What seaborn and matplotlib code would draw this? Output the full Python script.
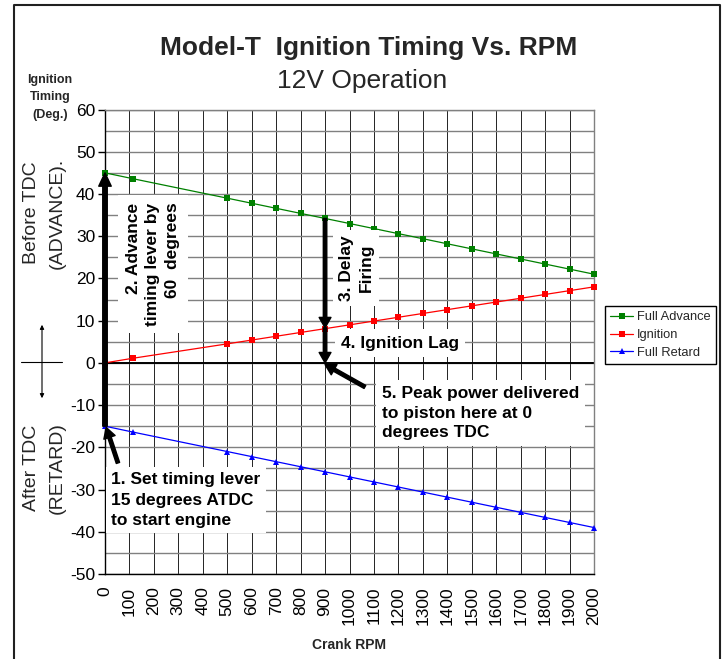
import matplotlib
matplotlib.use("Agg")
import matplotlib.pyplot as plt
import seaborn as sns
import pandas as pd
from matplotlib.lines import Line2D
from matplotlib.patches import FancyArrowPatch

# ---------------- data ----------------
rpm = [0, 115, 500, 600, 700, 800, 900, 1000, 1100, 1200, 1300, 1400,
       1500, 1600, 1700, 1800, 1900, 2000]
full_advance = [45.0, 43.6, 39.0, 37.8, 36.6, 35.4, 34.2, 33.0, 31.8, 30.6,
                29.4, 28.2, 27.0, 25.8, 24.6, 23.4, 22.2, 21.0]
ignition = [0.0, 1.1, 4.5, 5.4, 6.3, 7.2, 8.1, 9.0, 9.9, 10.8, 11.7, 12.6,
            13.5, 14.4, 15.3, 16.2, 17.1, 18.0]
full_retard = [-15.0, -16.4, -21.0, -22.2, -23.4, -24.6, -25.8, -27.0, -28.2,
               -29.4, -30.6, -31.8, -33.0, -34.2, -35.4, -36.6, -37.8, -39.0]
series_names = ["Full Advance", "Ignition", "Full Retard"]
series_colors = ["#008000", "#FF0000", "#0000FF"]
series_markers = ["s", "s", "^"]
x_ticks = [0, 100, 200, 300, 400, 500, 600, 700, 800, 900, 1000, 1100, 1200,
           1300, 1400, 1500, 1600, 1700, 1800, 1900, 2000]
y_ticks = [-50, -40, -30, -20, -10, 0, 10, 20, 30, 40, 50, 60]
y_minor = [-45, -35, -25, -15, -5, 5, 15, 25, 35, 45, 55]

sns.set_theme(style="white")
plt.rcParams["font.family"] = ["Liberation Sans", "DejaVu Sans"]
plt.rcParams["axes.unicode_minus"] = False

W, H = 725, 659
fig = plt.figure(figsize=(W / 100, H / 100), dpi=100)
fig.patch.set_facecolor("white")
ax = fig.add_axes([105 / W, 1 - 574 / H, (594 - 105) / W, (574 - 109.5) / H])
ax.set_facecolor("white")

df = pd.DataFrame({"rpm": rpm, "Full Advance": full_advance,
                   "Ignition": ignition, "Full Retard": full_retard})

for name, col, mk in zip(series_names, series_colors, series_markers):
    sns.lineplot(data=df, x="rpm", y=name, ax=ax, color=col, marker=mk,
                 markersize=4.2 if mk == "s" else 5, markeredgecolor=col,
                 markeredgewidth=0, linewidth=0.9, label=name, sort=False,
                 errorbar=None, clip_on=False, zorder=3)

ax.set_xlim(0, 2000)
ax.set_ylim(-50, 60)
ax.set_xticks(x_ticks)
ax.set_xticklabels([str(t) for t in x_ticks], rotation=90)
ax.set_yticks(y_ticks)
ax.set_yticklabels([str(t) for t in y_ticks])
ax.set_yticks(y_minor, minor=True)
ax.tick_params(axis="x", length=0, pad=9, labelsize=12.5, colors="black")
ax.tick_params(axis="y", which="major", direction="out", length=5, width=1,
               pad=2, labelsize=12.5, colors="black", left=True)
ax.tick_params(axis="y", which="minor", length=0)
ax.grid(False)
ax.yaxis.grid(True, which="both", color="#808080", linewidth=1.0, zorder=0)
ax.xaxis.grid(True, which="major", color="black", linewidth=0.6, zorder=0)
ax.set_axisbelow(True)
ax.axhline(0, color="black", linewidth=1.4, zorder=2)
for s in ["left", "bottom"]:
    ax.spines[s].set_color("black")
    ax.spines[s].set_linewidth(1.0)
for s in ["top", "right"]:
    ax.spines[s].set_color("#808080")
    ax.spines[s].set_linewidth(1.0)
ax.set_xlabel("Crank RPM", fontsize=10, fontweight="bold", labelpad=9)
ax.set_ylabel("")

handles, labels = ax.get_legend_handles_labels()
ax.get_legend().remove()
leg = fig.legend(handles, labels, loc="upper left",
                 bbox_to_anchor=(605 / W, 1 - 306 / H), frameon=True,
                 fancybox=False, edgecolor="black", framealpha=1, fontsize=9.3,
                 handlelength=1.8, handletextpad=0.3, labelspacing=0.45,
                 borderpad=0.4, borderaxespad=0)
leg.get_frame().set_linewidth(1.0)

# ---------------- titles & side labels ----------------
fig.text(369 / W, 1 - 55 / H, "Model-T  Ignition Timing Vs. RPM", ha="center",
         va="baseline", fontsize=19, fontweight="bold")
fig.text(362 / W, 1 - 88 / H, "12V Operation", ha="center", va="baseline",
         fontsize=19)
for txt, py in [("Ignition", 80), ("Timing", 97), ("(Deg.)", 115)]:
    fig.text(50 / W, 1 - py / H, txt, ha="center", va="center", fontsize=9,
             fontweight="bold")
fig.text(31 / W, 1 - 213 / H, "Before TDC", rotation=90, ha="center",
         va="center", fontsize=14)
fig.text(57 / W, 1 - 213 / H, "(ADVANCE).", rotation=90, ha="center",
         va="center", fontsize=14)
fig.text(31 / W, 1 - 468 / H, "After TDC", rotation=90, ha="center",
         va="center", fontsize=14)
fig.text(57 / W, 1 - 468 / H, "(RETARD)", rotation=90, ha="center",
         va="center", fontsize=14)

# crosshair symbol
fig.add_artist(Line2D([21 / W, 62 / W], [1 - 362 / H, 1 - 362 / H],
                      transform=fig.transFigure, color="black", lw=0.8))
fig.add_artist(FancyArrowPatch((42 / W, 1 - 401 / H), (42 / W, 1 - 322 / H),
                               transform=fig.transFigure, arrowstyle="<|-|>",
                               mutation_scale=6, lw=0.8, color="black"))

# figure frame
fig.add_artist(Line2D([14 / W, 14 / W, 720 / W, 720 / W],
                      [0, 1 - 5 / H, 1 - 5 / H, 0], transform=fig.transFigure,
                      color="#202020", lw=1.5))

# ---------------- annotations ----------------
box = dict(boxstyle="square,pad=0.3", fc="white", ec="none")
tf = dict(fontsize=12.5, fontweight="bold", color="black", zorder=4)

ax.text(25, -32.5, "1. Set timing lever\n15 degrees ATDC\nto start engine",
        ha="left", va="center", linespacing=1.45, bbox=box, **tf)
ax.text(196, 23.4, "2. Advance\ntiming lever by\n60  degrees", rotation=90,
        ha="center", va="center", multialignment="right", linespacing=1.4,
        bbox=dict(boxstyle="square,pad=0.45", fc="white", ec="none"), **tf)
ax.text(1028, 22.5, "3. Delay\nFiring", rotation=90, ha="center", va="center",
        multialignment="center", linespacing=1.45, bbox=box, **tf)
ax.text(1206, 4.7, "4. Ignition Lag", ha="center", va="center",
        bbox=dict(boxstyle="square,pad=0.35", fc="white", ec="none"), **tf)
ax.text(1133, -11.9, "5. Peak power delivered\nto piston here at 0\ndegrees TDC",
        ha="left", va="center", multialignment="left", linespacing=1.4,
        bbox=dict(boxstyle="square,pad=0.35", fc="white", ec="none"), **tf)

big = dict(arrowstyle="simple,head_length=0.8,head_width=0.75,tail_width=0.27",
           mutation_scale=12, color="black", shrinkA=0, shrinkB=0)
small = dict(arrowstyle="simple,head_length=0.75,head_width=0.85,tail_width=0.25",
             mutation_scale=10, color="black", shrinkA=0, shrinkB=0)

ax.annotate("", xy=(0, 45), xytext=(0, -15), arrowprops=big,
            annotation_clip=False, zorder=5)
ax.annotate("", xy=(900, 8.3), xytext=(900, 34.2), arrowprops=small,
            annotation_clip=False, zorder=5)
ax.annotate("", xy=(900, 0), xytext=(900, 8.3), arrowprops=small,
            annotation_clip=False, zorder=5)
ax.annotate("", xy=(5, -15.3), xytext=(53, -23.7), arrowprops=small,
            annotation_clip=False, zorder=5)
ax.annotate("", xy=(900, -0.4), xytext=(1063, -5.7), arrowprops=small,
            annotation_clip=False, zorder=5)

fig.savefig("out.png", dpi=100, facecolor="white")
